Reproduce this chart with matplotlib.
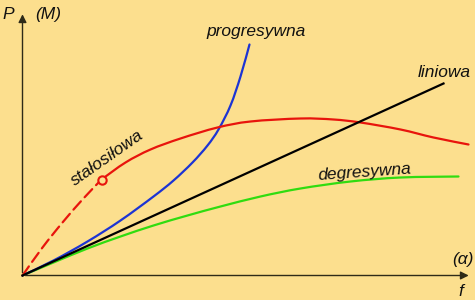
import matplotlib.pyplot as plt
from matplotlib.path import Path
from matplotlib.patches import PathPatch

# curve points, origin of the axes at (0, 0)
lin_x = [0, 421]
lin_y = [0, 192]

prog_x = [0, 31, 65, 98, 131, 151, 170, 185, 196, 208, 218, 227]
prog_y = [0, 15, 34, 55, 79, 95, 113, 130, 146, 170, 199, 231]

degr_x = [0, 31, 65, 98, 131, 165, 198, 238, 278, 328, 378, 436]
degr_y = [0, 13, 27, 39, 50, 60, 69, 79, 87, 94, 98, 99]

stal_dash_x = [0, 20, 40, 60, 79]
stal_dash_y = [0, 28, 53, 76, 96]
stal_x = [79, 103, 128, 158, 195, 228, 278, 311, 338, 378, 411, 446]
stal_y = [96, 113, 126, 137, 148, 154, 157, 156, 153, 146, 138, 131]


def smooth_path(xs, ys):
    # Catmull-Rom through the points, drawn as cubic Bezier segments
    pts = list(zip(xs, ys))
    verts = [pts[0]]
    codes = [Path.MOVETO]
    for i in range(len(pts) - 1):
        p0 = pts[i - 1] if i > 0 else pts[i]
        p1, p2 = pts[i], pts[i + 1]
        p3 = pts[i + 2] if i + 2 < len(pts) else pts[i + 1]
        c1 = (p1[0] + (p2[0] - p0[0]) / 6, p1[1] + (p2[1] - p0[1]) / 6)
        c2 = (p2[0] - (p3[0] - p1[0]) / 6, p2[1] - (p3[1] - p1[1]) / 6)
        verts += [c1, c2, p2]
        codes += [Path.CURVE4] * 3
    return Path(verts, codes)


def curve(ax, xs, ys, color, **kw):
    ax.add_patch(PathPatch(smooth_path(xs, ys), fill=False, edgecolor=color,
                           lw=1.6, capstyle='round', **kw))


bg = '#fcdf8e'
fig = plt.figure(figsize=(4.75, 3.0), dpi=100, facecolor=bg)
ax = fig.add_axes([0, 0, 1, 1])
ax.set_facecolor(bg)
ax.set_xlim(-22.5, 452.5)
ax.set_ylim(-24.5, 275.5)
ax.axis('off')

# axes with arrows
ax.annotate('', xy=(449, 0), xytext=(0, 0),
            arrowprops=dict(arrowstyle='-|>', color='#2e2a18', lw=1, mutation_scale=12))
ax.annotate('', xy=(0, 264), xytext=(0, 0),
            arrowprops=dict(arrowstyle='-|>', color='#2e2a18', lw=1, mutation_scale=12))

ax.plot(lin_x, lin_y, color='black', lw=1.6)
curve(ax, degr_x, degr_y, '#30dc10')
curve(ax, prog_x, prog_y, '#1c34d4')
curve(ax, stal_dash_x, stal_dash_y, '#e8140c', linestyle=(0, (5, 2.5)))
curve(ax, stal_x, stal_y, '#e8140c')
ax.plot([stal_x[0]], [stal_y[0]], 'o', ms=6, mfc=bg, mec='#e8140c', mew=1.5, zorder=5)

font = dict(family='Liberation Sans', style='italic', fontsize=12.5, color='#111111')
ax.text(-14, 261, 'P', ha='center', va='center', **font)
ax.text(25.5, 261, '(M)', ha='center', va='center', **font)
ax.text(438, -16, 'f', ha='center', va='center', **font)
ax.text(440, 16, '(α)', ha='center', va='center', **font)
ax.text(234, 244, 'progresywna', ha='center', va='center', **font)
ax.text(422, 203, 'liniowa', ha='center', va='center', **font)
ax.text(85, 118, 'stałosiłowa', ha='center', va='center', rotation=35, **font)
ax.text(342, 103, 'degresywna', ha='center', va='center', rotation=4, **font)

fig.savefig('out.png', dpi=100, facecolor=bg)
